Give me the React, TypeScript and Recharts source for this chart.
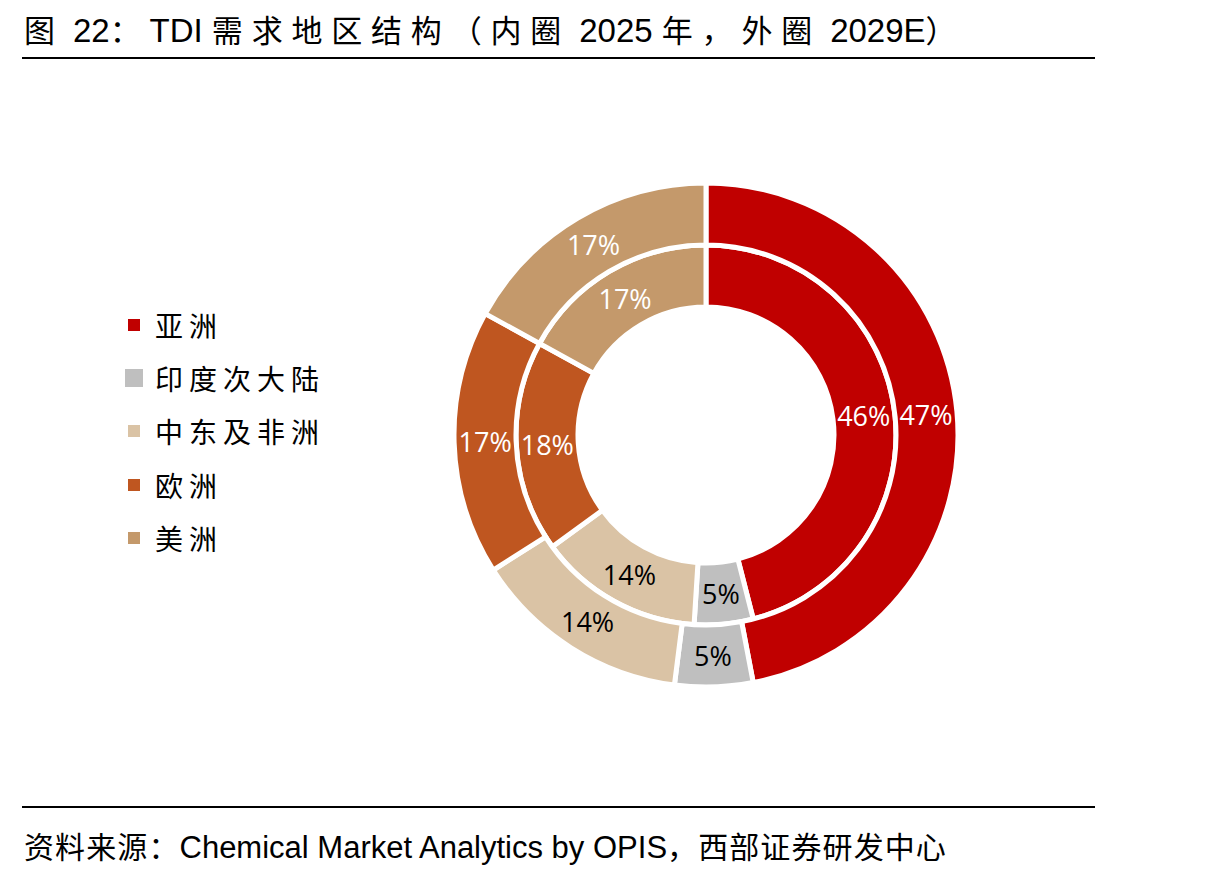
import { Cell, Pie, PieChart } from "recharts";

const REGIONS = ["亚洲", "印度次大陆", "中东及非洲", "欧洲", "美洲"];
const COLORS = ["#C00000", "#BFBFBF", "#DAC3A5", "#BF5620", "#C4996B"];
const LABEL_COLORS = ["#ffffff", "#000000", "#000000", "#ffffff", "#ffffff"];
const INNER_2025 = [46, 5, 14, 18, 17];
const OUTER_2029E = [47, 5, 14, 17, 17];

const TITLE = "图 22：TDI 需求地区结构（内圈 2025 年，外圈 2029E）";
const SOURCE = "资料来源：Chemical Market Analytics by OPIS，西部证券研发中心";

const ASCII_FONT = '"Liberation Sans", Arial, sans-serif';
const CJK_FONT = '"Noto Sans CJK SC", sans-serif';
const LABEL_FONT = '"Open Sans", "Noto Sans", sans-serif';
const RAD = Math.PI / 180;
const CJK_RE = /[\u3000-\u9fff\uff00-\uffef]/;

const inner = REGIONS.map((name, i) => ({ name, value: INNER_2025[i] }));
const outer = REGIONS.map((name, i) => ({ name, value: OUTER_2029E[i] }));

// splits mixed text so the Chinese runs can get their own font and spacing
function MixedText(props: { text: string; cjkSize: number; asciiSize: number; cjkSpacing: number }) {
  const { text, cjkSize, asciiSize, cjkSpacing } = props;
  const runs = text.match(/[\u3000-\u9fff\uff00-\uffef]+|[^\u3000-\u9fff\uff00-\uffef]+/g) ?? [];
  return (
    <>
      {runs.map((run, i) =>
        CJK_RE.test(run) ? (
          <span key={i} style={{ fontFamily: CJK_FONT, fontSize: cjkSize, letterSpacing: cjkSpacing }}>
            {run}
          </span>
        ) : (
          <span key={i} style={{ fontFamily: ASCII_FONT, fontSize: asciiSize }}>
            {run}
          </span>
        )
      )}
    </>
  );
}

function renderLabel(props: any) {
  const { cx, cy, midAngle, innerRadius, outerRadius, value, index } = props;
  const r = (innerRadius + outerRadius) / 2;
  const x = cx + r * Math.cos(-midAngle * RAD);
  const y = cy + r * Math.sin(-midAngle * RAD);
  return (
    <text
      x={x}
      y={y}
      fill={LABEL_COLORS[index]}
      textAnchor="middle"
      dominantBaseline="central"
      style={{ fontFamily: LABEL_FONT, fontSize: 27 }}
    >
      {`${value}%`}
    </text>
  );
}

export default function App() {
  return (
    <div style={{ position: "fixed", left: 0, top: 0, width: 1215, height: 875, background: "#fff", color: "#000" }}>
      <div style={{ position: "absolute", left: 24, top: 9, whiteSpace: "nowrap", lineHeight: "40px" }}>
        <MixedText text={TITLE} cjkSize={31} asciiSize={33} cjkSpacing={8.8} />
      </div>
      <div style={{ position: "absolute", left: 22, top: 57, width: 1073, height: 2, background: "#000" }} />

      <div style={{ position: "absolute", left: 0, top: 0 }}>
        <PieChart width={1215} height={875} margin={{ top: 0, right: 0, bottom: 0, left: 0 }}>
          <Pie
            data={inner}
            dataKey="value"
            nameKey="name"
            cx={706}
            cy={435}
            innerRadius={128}
            outerRadius={190}
            startAngle={90}
            endAngle={-270}
            stroke="#fff"
            strokeWidth={5}
            label={renderLabel}
            labelLine={false}
            isAnimationActive={false}
          >
            {inner.map((d, i) => (
              <Cell key={d.name} fill={COLORS[i]} />
            ))}
          </Pie>
          <Pie
            data={outer}
            dataKey="value"
            nameKey="name"
            cx={706}
            cy={435}
            innerRadius={190}
            outerRadius={252}
            startAngle={90}
            endAngle={-270}
            stroke="#fff"
            strokeWidth={5}
            label={renderLabel}
            labelLine={false}
            isAnimationActive={false}
          >
            {outer.map((d, i) => (
              <Cell key={d.name} fill={COLORS[i]} />
            ))}
          </Pie>
        </PieChart>
      </div>

      <div style={{ position: "absolute", left: 124, top: 298 }}>
        {REGIONS.map((name, i) => (
          <div key={name} style={{ display: "flex", alignItems: "center", height: 53.3 }}>
            <div style={{ width: 20, display: "flex", justifyContent: "center" }}>
              <div style={{ width: i === 1 ? 18 : 12, height: i === 1 ? 18 : 12, background: COLORS[i] }} />
            </div>
            <span style={{ marginLeft: 11, fontFamily: CJK_FONT, fontSize: 28, letterSpacing: 6 }}>{name}</span>
          </div>
        ))}
      </div>

      <div style={{ position: "absolute", left: 22, top: 806, width: 1073, height: 2, background: "#000" }} />
      <div style={{ position: "absolute", left: 24, top: 826, whiteSpace: "nowrap", lineHeight: "38px" }}>
        <MixedText text={SOURCE} cjkSize={30} asciiSize={31} cjkSpacing={1.1} />
      </div>
    </div>
  );
}
